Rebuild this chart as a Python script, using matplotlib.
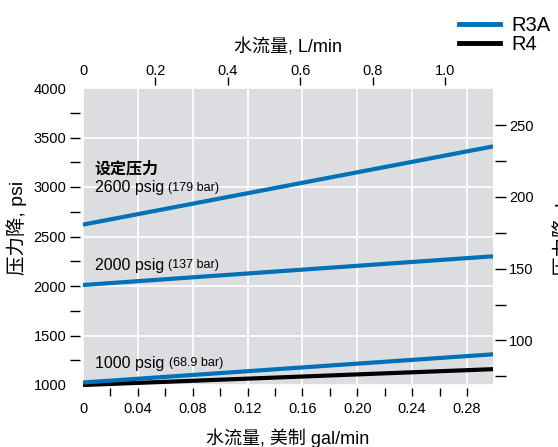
import numpy as np
import matplotlib.pyplot as plt
from matplotlib.lines import Line2D
from matplotlib.ticker import FixedLocator

plt.rcParams["font.family"] = ["Liberation Sans", "Noto Sans CJK SC"]

# ── Data ──────────────────────────────────────────────────────────────────
flow_gpm = [0.0, 0.299]
r3a_2600 = [2620, 3410]
r3a_2000 = [2010, 2300]
r3a_1000 = [1025, 1310]
r4_1000  = [1000, 1160]

set_labels = [("2600 psig", "(179 bar)", 2994),
              ("2000 psig", "(137 bar)", 2208),
              ("1000 psig", "(68.9 bar)", 1221)]

gpm_ticks = [0, 0.04, 0.08, 0.12, 0.16, 0.20, 0.24, 0.28]
gpm_tick_labels = ["0", "0.04", "0.08", "0.12", "0.16", "0.20", "0.24", "0.28"]
lpm_ticks = [0, 0.2, 0.4, 0.6, 0.8, 1.0]
lpm_tick_labels = ["0", "0.2", "0.4", "0.6", "0.8", "1.0"]
psi_ticks = [1000, 1500, 2000, 2500, 3000, 3500, 4000]
bar_ticks = [100, 150, 200, 250]

PSI_PER_BAR = 14.5038
LPM_PER_GPM = 3.78541

blue  = "#0071b6"
black = "#000000"
bg    = "#dcdde0"

fig = plt.figure(figsize=(5.58, 4.47), dpi=100)
ax = fig.add_axes([83/558, 62/447, 410/558, 297/447])
ax.set_facecolor(bg)

ax.set_xlim(0, 0.299)
ax.set_ylim(1000, 4000)

for s in ax.spines.values():
    s.set_visible(False)
ax.spines["left"].set_position(("outward", 2))
ax.spines["bottom"].set_position(("outward", 2))

# ── grid + ticks ──────────────────────────────────────────────────────────
ax.xaxis.set_major_locator(FixedLocator(gpm_ticks))
ax.xaxis.set_minor_locator(FixedLocator([0.02, 0.06, 0.10, 0.14, 0.18, 0.22, 0.26]))
ax.yaxis.set_major_locator(FixedLocator(psi_ticks))
ax.yaxis.set_minor_locator(FixedLocator([1250, 1750, 2250, 2750, 3250, 3750]))
ax.grid(True, which="major", color="white", linewidth=1.2)
ax.set_axisbelow(True)

ax.set_xticklabels(gpm_tick_labels)
ax.tick_params(axis="x", which="both", direction="out", length=6, width=1,
               labelsize=10.5, pad=4)
ax.tick_params(axis="y", which="both", direction="out", length=7, width=1,
               labelsize=10.5, pad=3)
ax.xaxis.get_major_ticks()[0].tick1line.set_visible(False)
ymaj = ax.yaxis.get_major_ticks()
ymaj[0].tick1line.set_visible(False)
ymaj[-1].tick1line.set_visible(False)

ax.set_xlabel("水流量, 美制 gal/min", fontsize=13, labelpad=9)
ax.set_ylabel("压力降, psi", fontsize=14, labelpad=5)
ax.yaxis.label.set_y(0.53)

# ── lines ─────────────────────────────────────────────────────────────────
lw = 3.0
ax.plot(flow_gpm, r4_1000, color=black, linewidth=lw, solid_capstyle="butt", clip_on=False)
ax.plot(flow_gpm, r3a_1000, color=blue, linewidth=lw, solid_capstyle="butt")
ax.plot(flow_gpm, r3a_2000, color=blue, linewidth=lw, solid_capstyle="butt")
ax.plot(flow_gpm, r3a_2600, color=blue, linewidth=lw, solid_capstyle="butt")

# ── annotations ───────────────────────────────────────────────────────────
ax.text(0.0085, 3185, "设定压力", fontsize=11.5, fontweight="bold", va="center")
for main, sub, yv in set_labels:
    t = ax.text(0.0085, yv, main + " ", fontsize=11.5, va="center")
    ax.annotate(sub, xycoords=t, xy=(1, 0.5), va="center", fontsize=9)

# ── top axis: L/min ───────────────────────────────────────────────────────
top = ax.secondary_xaxis(1 + 3/297, functions=(lambda g: g * LPM_PER_GPM,
                                               lambda l: l / LPM_PER_GPM))
top.spines["top"].set_visible(False)
top.xaxis.set_major_locator(FixedLocator(lpm_ticks))
top.set_xticklabels(lpm_tick_labels)
top.tick_params(axis="x", direction="out", length=6, width=1, labelsize=10.5, pad=-1)
top.xaxis.get_major_ticks()[0].tick1line.set_visible(False)
top.xaxis.get_major_ticks()[0].tick2line.set_visible(False)
top.set_xlabel("水流量, L/min", fontsize=13, labelpad=8)

# ── right axis: bar ───────────────────────────────────────────────────────
right = ax.secondary_yaxis(1 + 2/410, functions=(lambda p: p / PSI_PER_BAR,
                                                 lambda b: b * PSI_PER_BAR))
right.spines["right"].set_visible(False)
right.yaxis.set_major_locator(FixedLocator(bar_ticks))
right.yaxis.set_minor_locator(FixedLocator([75, 125, 175, 225]))
right.tick_params(axis="y", which="both", direction="out", length=8, width=1,
                  labelsize=10.5, pad=2)
right.set_ylabel("压力降, bar", fontsize=14, labelpad=15)
right.yaxis.label.set_y(0.53)

# ── legend ────────────────────────────────────────────────────────────────
handles = [Line2D([], [], color=blue, linewidth=3.5),
           Line2D([], [], color=black, linewidth=3.5)]
fig.legend(handles, ["R3A", "R4"], loc="upper right", bbox_to_anchor=(1.016, 1.0),
           frameon=False, fontsize=14.5, handlelength=2.0, handletextpad=0.6,
           labelspacing=0.0, borderpad=0.3)

fig.savefig("out.png", dpi=100)
